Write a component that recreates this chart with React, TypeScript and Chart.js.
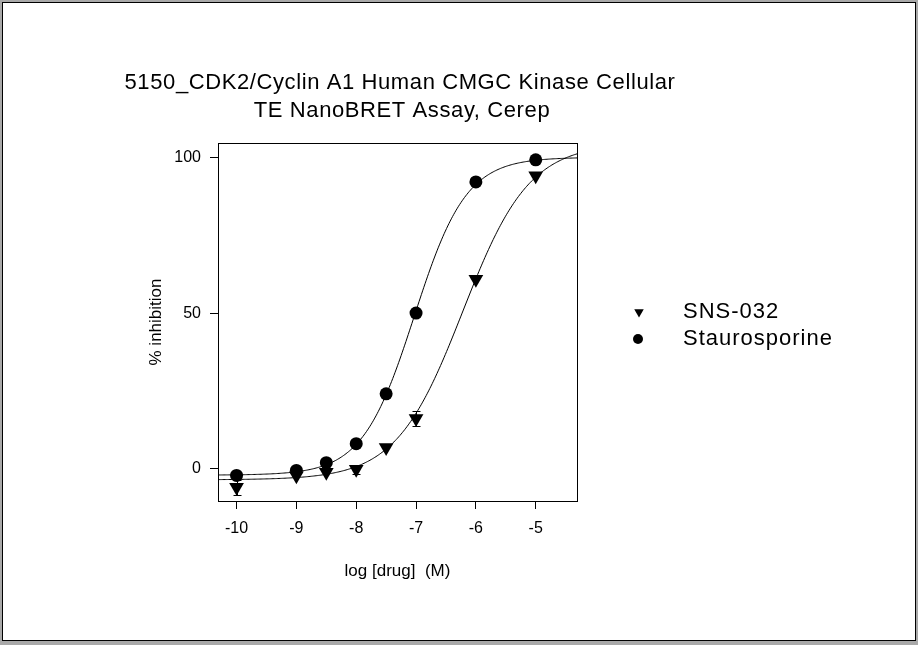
import React, { useEffect, useRef } from 'react';
import { Chart, registerables } from 'chart.js';

Chart.register(...registerables);

// ---------- data ----------
const TITLE_LINES = ['5150_CDK2/Cyclin A1 Human CMGC Kinase Cellular', 'TE NanoBRET Assay, Cerep'];
const X_TITLE = 'log [drug]  (M)';
const Y_TITLE = '% inhibition';
const SERIES_NAMES = ['SNS-032', 'Staurosporine'];

const LOG_DOSE = [-10, -9, -8.5, -8, -7.5, -7, -6, -5];
const SNS_VALUES = [-5.9, -2.2, -1.1, -0.1, 6.9, 16.2, 60.9, 94.1];
const SNS_ERRORS = [2.5, 0, 0, 1.5, 0, 2.3, 0, 0];
const STAURO_VALUES = [-2.1, -0.5, 2.0, 8.1, 24.1, 50.0, 92.1, 99.2];
const STAURO_ERRORS = [0, 0, 0, 0, 0, 0, 0, 0];

// four-parameter logistic fit parameters [bottom, top, logIC50, hill]
const SNS_FIT = [-3.5, 104.5, -6.22, 0.78];
const STAURO_FIT = [-2.0, 100, -7.03, 1.0];

const X_TICKS = [-10, -9, -8, -7, -6, -5];
const Y_TICKS = [0, 50, 100];
const X_RANGE = [-10.31, -4.31];
const Y_RANGE = [-10.3, 104.6];

const FONT = '"Liberation Sans", Arial, sans-serif';

function fitCurve(p: number[]) {
  const [bottom, top, logIC50, hill] = p;
  const pts: { x: number; y: number }[] = [];
  const n = 300;
  for (let i = 0; i <= n; i++) {
    const x = X_RANGE[0] + ((X_RANGE[1] - X_RANGE[0]) * i) / n;
    pts.push({ x, y: bottom + (top - bottom) / (1 + Math.pow(10, (logIC50 - x) * hill)) });
  }
  return pts;
}

const framePlugin = {
  id: 'frame',
  beforeDraw(chart: any) {
    const ctx = chart.ctx;
    const w = chart.width;
    const h = chart.height;
    ctx.save();
    ctx.fillStyle = '#a9a9a9';
    ctx.fillRect(0, 0, w, h);
    ctx.fillStyle = '#ffffff';
    ctx.fillRect(2, 2, w - 4, h - 6);
    ctx.strokeStyle = '#000';
    ctx.lineWidth = 1;
    ctx.strokeRect(2.5, 2.5, w - 5, h - 7);
    ctx.restore();
  },
  afterDraw(chart: any) {
    const ctx = chart.ctx;
    const a = chart.chartArea;
    ctx.save();
    // plot box
    ctx.strokeStyle = '#000';
    ctx.lineWidth = 1;
    ctx.strokeRect(Math.round(a.left) + 0.5, Math.round(a.top) + 0.5, Math.round(a.right - a.left), Math.round(a.bottom - a.top));

    // title
    ctx.fillStyle = '#000';
    ctx.textAlign = 'center';
    ctx.textBaseline = 'alphabetic';
    ctx.font = `22px ${FONT}`;
    (ctx as any).letterSpacing = '0.6px';
    ctx.fillText(TITLE_LINES[0], 400, 89);
    ctx.fillText(TITLE_LINES[1], 402, 117);

    // axis titles
    (ctx as any).letterSpacing = '0px';
    ctx.font = `17px ${FONT}`;
    ctx.fillText(X_TITLE, (a.left + a.right) / 2, 576);
    ctx.save();
    ctx.translate(156, (a.top + a.bottom) / 2);
    ctx.rotate(-Math.PI / 2);
    ctx.textBaseline = 'middle';
    ctx.fillText(Y_TITLE, 0, 0);
    ctx.restore();

    // legend
    const markers = [chart.data.datasets[2], chart.data.datasets[3]];
    const ys = [318, 345];
    ctx.textAlign = 'left';
    ctx.font = `22px ${FONT}`;
    (ctx as any).letterSpacing = '1px';
    markers.forEach((ds: any, i: number) => {
      const cy = ys[i] - 6;
      ctx.fillStyle = '#000';
      ctx.beginPath();
      if (ds.pointStyle === 'triangle') {
        const r = 5.5;
        ctx.moveTo(639 - r * 0.866, cy - r * 0.5);
        ctx.lineTo(639 + r * 0.866, cy - r * 0.5);
        ctx.lineTo(639, cy + r);
        ctx.closePath();
      } else {
        ctx.arc(638, cy, 5, 0, Math.PI * 2);
      }
      ctx.fill();
      ctx.fillText(ds.label, 683, ys[i]);
    });
    ctx.restore();
  },
};

const errorBarPlugin = {
  id: 'errorBars',
  afterDatasetsDraw(chart: any) {
    const ctx = chart.ctx;
    const xs = chart.scales.x;
    const ysc = chart.scales.y;
    ctx.save();
    ctx.strokeStyle = '#000';
    ctx.lineWidth = 1;
    chart.data.datasets.forEach((ds: any) => {
      if (!ds.errors) return;
      ds.data.forEach((pt: any, i: number) => {
        const e = ds.errors[i];
        if (!e) return;
        const px = Math.round(xs.getPixelForValue(pt.x)) + 0.5;
        const y1 = Math.round(ysc.getPixelForValue(pt.y + e)) + 0.5;
        const y2 = Math.round(ysc.getPixelForValue(pt.y - e)) + 0.5;
        ctx.beginPath();
        ctx.moveTo(px, y1);
        ctx.lineTo(px, y2);
        ctx.moveTo(px - 4, y1);
        ctx.lineTo(px + 4, y1);
        ctx.moveTo(px - 4, y2);
        ctx.lineTo(px + 4, y2);
        ctx.stroke();
      });
    });
    ctx.restore();
  },
};

export default function App() {
  const ref = useRef<HTMLCanvasElement | null>(null);

  useEffect(() => {
    if (!ref.current) return;
    const toPts = (vals: number[]) => LOG_DOSE.map((x, i) => ({ x, y: vals[i] }));
    const chart = new Chart(ref.current, {
      type: 'scatter',
      data: {
        datasets: [
          {
            label: 'SNS-032 fit',
            data: fitCurve(SNS_FIT),
            showLine: true,
            borderColor: '#000',
            borderWidth: 1,
            pointRadius: 0,
            fill: false,
          },
          {
            label: 'Staurosporine fit',
            data: fitCurve(STAURO_FIT),
            showLine: true,
            borderColor: '#000',
            borderWidth: 1,
            pointRadius: 0,
            fill: false,
          },
          {
            label: SERIES_NAMES[0],
            data: toPts(SNS_VALUES),
            errors: SNS_ERRORS,
            pointStyle: 'triangle',
            rotation: 180,
            pointRadius: 8.5,
            backgroundColor: '#000',
            borderColor: '#000',
            borderWidth: 0,
          } as any,
          {
            label: SERIES_NAMES[1],
            data: toPts(STAURO_VALUES),
            errors: STAURO_ERRORS,
            pointStyle: 'circle',
            pointRadius: 6.5,
            backgroundColor: '#000',
            borderColor: '#000',
            borderWidth: 0,
          } as any,
        ],
      },
      options: {
        responsive: false,
        animation: false,
        layout: { padding: { left: 158, top: 143, right: 341, bottom: 104 } },
        plugins: {
          legend: { display: false },
          tooltip: { enabled: false },
          title: { display: false },
        },
        scales: {
          x: {
            type: 'linear',
            min: X_RANGE[0],
            max: X_RANGE[1],
            afterBuildTicks: (s: any) => {
              s.ticks = X_TICKS.map((v) => ({ value: v }));
            },
            afterFit: (s: any) => {
              s.height = 40;
            },
            grid: { drawOnChartArea: false, drawTicks: true, tickLength: 8, color: '#000', lineWidth: 1 },
            border: { display: false },
            ticks: {
              color: '#000',
              font: { family: FONT, size: 16 },
              padding: 10,
              callback: (v: any) => String(v),
            },
          },
          y: {
            type: 'linear',
            min: Y_RANGE[0],
            max: Y_RANGE[1],
            afterBuildTicks: (s: any) => {
              s.ticks = Y_TICKS.map((v) => ({ value: v }));
            },
            afterFit: (s: any) => {
              s.width = 60;
            },
            grid: { drawOnChartArea: false, drawTicks: true, tickLength: 8, color: '#000', lineWidth: 1 },
            border: { display: false },
            ticks: {
              color: '#000',
              font: { family: FONT, size: 16 },
              padding: 9,
              callback: (v: any) => String(v),
            },
          },
        },
      },
      plugins: [framePlugin, errorBarPlugin],
    });
    return () => chart.destroy();
  }, []);

  return (
    <div style={{ position: 'fixed', left: 0, top: 0, width: 918, height: 645 }}>
      <canvas ref={ref} width={918} height={645} style={{ width: 918, height: 645, display: 'block' }} />
    </div>
  );
}
